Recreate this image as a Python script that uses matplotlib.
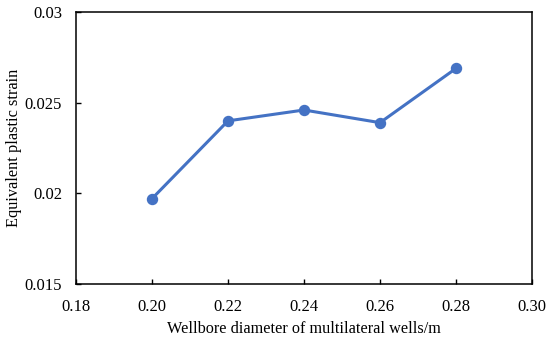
import matplotlib
matplotlib.use("Agg")
import matplotlib.pyplot as plt

diameters = [0.20, 0.22, 0.24, 0.26, 0.28]
strain = [0.0197, 0.0240, 0.0246, 0.0239, 0.0269]
x_ticks = [0.18, 0.20, 0.22, 0.24, 0.26, 0.28, 0.30]
x_tick_labels = ["0.18", "0.20", "0.22", "0.24", "0.26", "0.28", "0.30"]
y_ticks = [0.015, 0.02, 0.025, 0.03]
y_tick_labels = ["0.015", "0.02", "0.025", "0.03"]

plt.rcParams['font.family'] = ['Liberation Serif', 'DejaVu Serif']

fig = plt.figure(figsize=(5.5, 3.38), dpi=100)
ax = fig.add_axes([0.1382, 0.1607, 0.8291, 0.8029])
ax.plot(diameters, strain, color='#4472C4', linewidth=2.2, marker='o', markersize=7.2)
ax.set_xlim(0.18, 0.30)
ax.set_ylim(0.015, 0.03)
ax.set_xticks(x_ticks)
ax.set_xticklabels(x_tick_labels)
ax.set_yticks(y_ticks)
ax.set_yticklabels(y_tick_labels)
ax.tick_params(direction='in', length=3.5, width=1.0, labelsize=12, color='black')
ax.tick_params(axis='x', pad=11)
ax.tick_params(axis='y', pad=10)
for s in ax.spines.values():
    s.set_linewidth(1.1)
    s.set_color('black')
ax.set_xlabel("Wellbore diameter of multilateral wells/m", fontsize=11.7, labelpad=4)
ax.set_ylabel("Equivalent plastic strain", fontsize=11.7, labelpad=2)
fig.savefig("out.png", dpi=100)
